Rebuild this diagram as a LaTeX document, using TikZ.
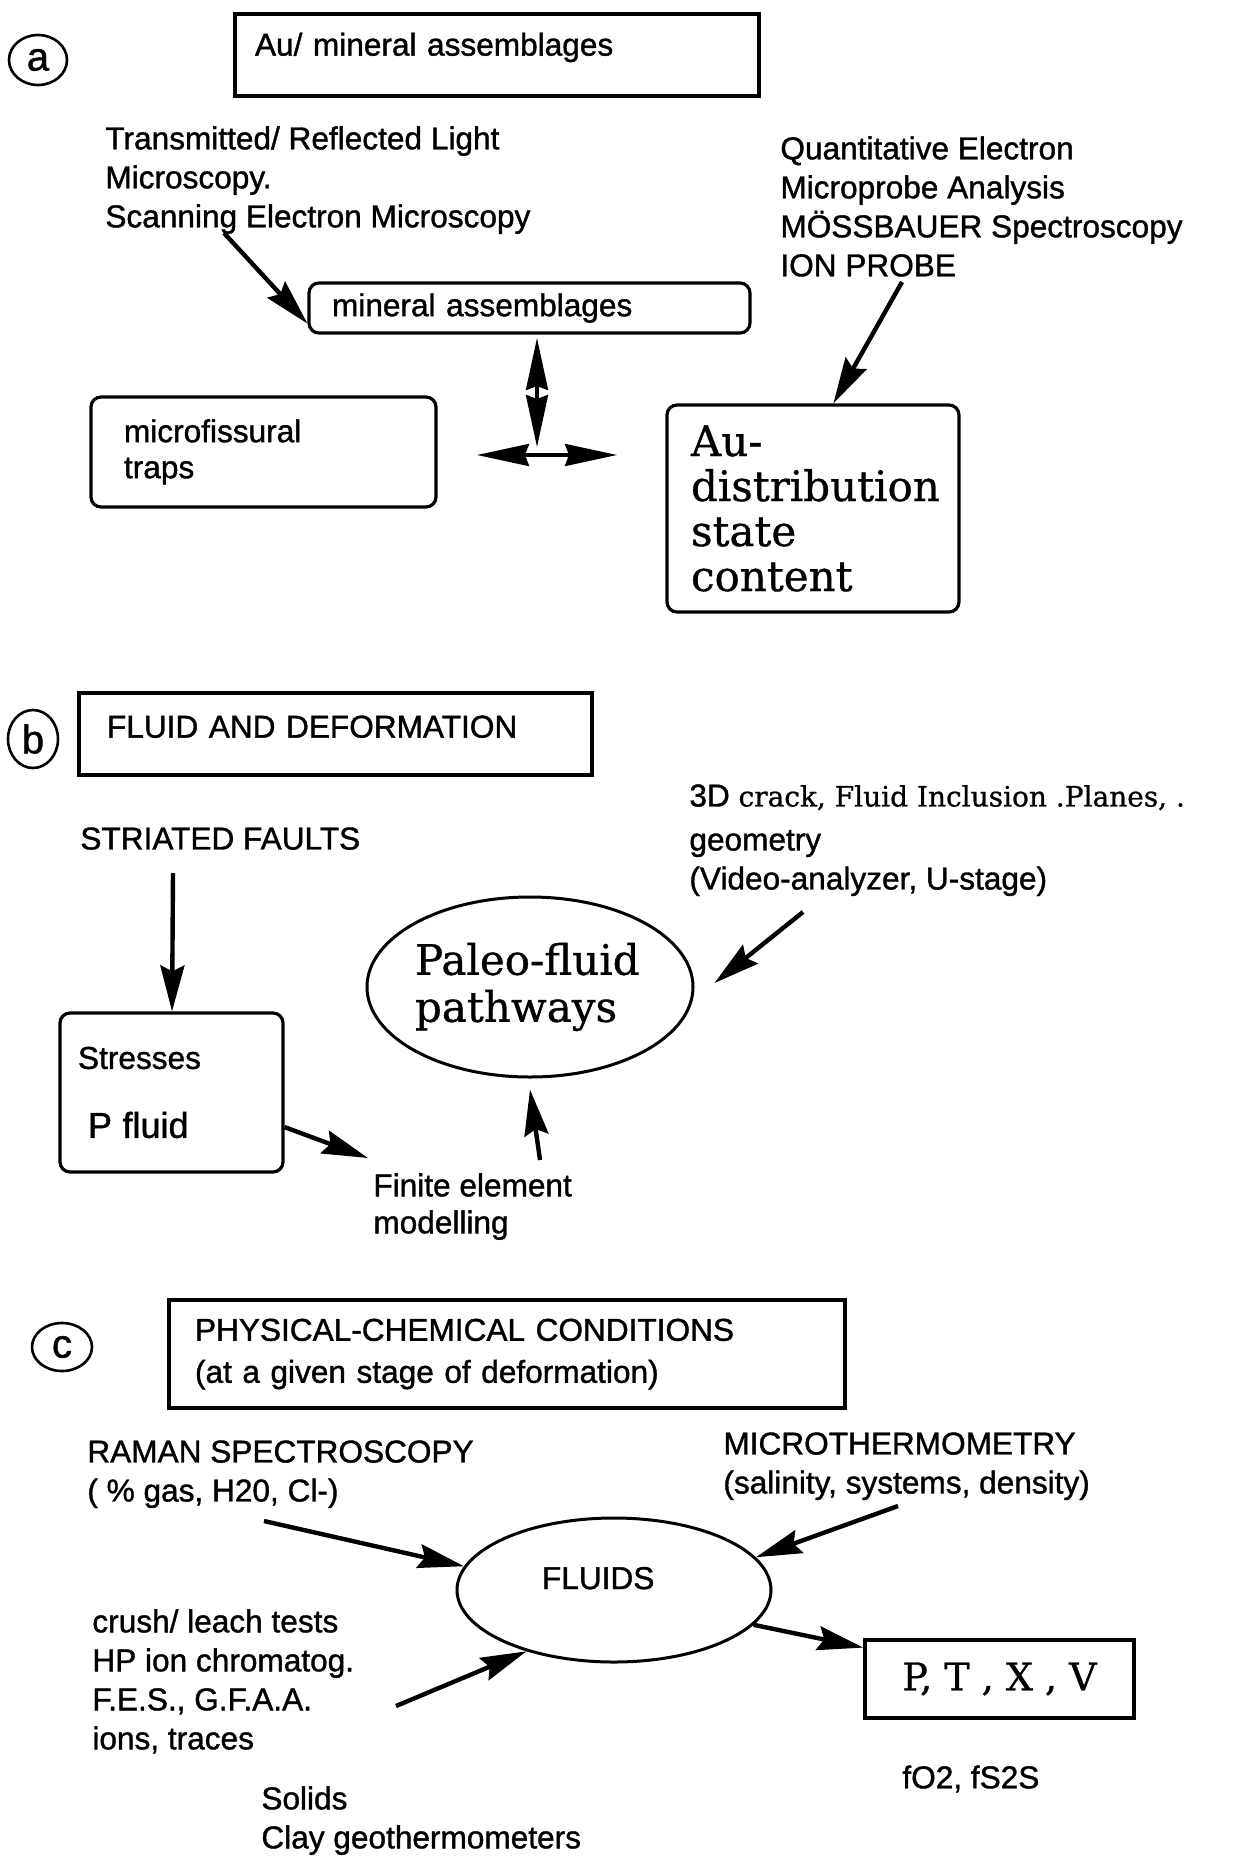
\documentclass[tikz,border=0pt]{standalone}
\usepackage{fontspec}
\setmainfont{DejaVu Serif}[UprightFeatures={FakeBold=0.8}]
\setsansfont{Liberation Sans}[UprightFeatures={FakeBold=1.2}]
\usetikzlibrary{arrows.meta,shapes}
\tikzset{
    %Define standard arrow tip
    >={Stealth[length=23pt,width=12pt,inset=3pt]},
    flow/.style={->, line width=2.2pt},
    twoway/.style={<->, line width=1.6pt,
      >={Stealth[length=26pt,width=11pt,inset=2pt]}},
    notetext/.style={
      font=\sffamily\fontsize{15.8}{19.5}\selectfont,
      align=left,
      inner sep=0pt,
      anchor=north west},
    sqbox/.style={
      rectangle,
      draw=black, line width=1.6pt,
      inner sep=0pt,
      font=\sffamily\fontsize{15.8}{19.5}\selectfont},
    rbox/.style={
      sqbox,
      rounded corners=5pt},
    oval/.style={
      ellipse,
      draw=black, line width=1.5pt,
      inner sep=0pt},
    tag/.style={
      ellipse,
      draw=black, line width=1.3pt,
      inner sep=0pt,
      font=\sffamily\fontsize{20}{20}\selectfont},
    serifbig/.style={
      font=\rmfamily\fontsize{21}{23.5}\selectfont},
}
\begin{document}
\begin{tikzpicture}[x=0.5pt,y=-0.5pt]
    \useasboundingbox (0,0) rectangle (1236,1856);

    % (a) gold and mineral assemblages
    \node (tag_a) [tag, minimum width=29pt, minimum height=25pt] at (38,60) {a};
    \node (aubox) [sqbox, inner xsep=10pt, text width=242pt, align=left,
          inner ysep=9.5pt, text height=11.3pt, text depth=10.7pt] at (497,55)
          {Au/ mineral assemblages};
    \node (transm) [notetext] at (105,126)
          {Transmitted/ Reflected Light\\ Microscopy.\\ Scanning Electron Microscopy};
    \node (quant) [notetext] at (780,136)
          {Quantitative Electron\\ Microprobe Analysis\\ MÖSSBAUER Spectroscopy\\ ION PROBE};
    \node (mineral) [rbox, inner xsep=11.5pt, text width=197.5pt, align=left,
          minimum height=25pt] at (529.5,308)
          {mineral assemblages};
    \node (microfis) [rbox, inner xsep=16.5pt, text width=139.5pt, align=left,
          minimum height=55pt, font=\sffamily\fontsize{15.8}{18}\selectfont] at (263.5,452)
          {microfissural\\ traps};
    \node (audist) [rbox, serifbig, inner xsep=12pt, text width=122pt, align=left,
          minimum height=103.5pt, font=\rmfamily\fontsize{21}{22.5}\selectfont] at (813,508.5)
          {Au-\\ distribution\\ state\\ content};

    \coordinate (tmtail) at (224,233);
    \coordinate (qtail) at (902,282);
    \coordinate (vtop) at (537,338);
    \coordinate (vbottom) at (537,447);
    \coordinate (hleft) at (477,455);
    \coordinate (hright) at (617,455);
    \draw [flow] (tmtail) -- (mineral.184);
    \draw [flow] (qtail) -- (audist.79);
    \draw [twoway] (vtop) -- (vbottom);
    \draw [twoway] (hleft) -- (hright);

    % (b) fluid and deformation
    \node (tag_b) [tag, minimum width=25pt, minimum height=29pt] at (33,739) {b};
    \node (fluidbox) [sqbox, inner xsep=14pt, text width=228.5pt, align=left,
          inner ysep=11pt, text height=11.3pt, text depth=7.7pt] at (335.5,734)
          {FLUID AND DEFORMATION};
    \node (faults) [notetext] at (80,827)
          {STRIATED FAULTS};
    \node (stresses) [rbox, inner xsep=9pt, text width=93.5pt, align=left,
          minimum height=79.5pt] at (171.5,1092.5)
          {Stresses\\[15pt]\hspace*{5pt}{\fontsize{18}{20}\selectfont P fluid}};
    \node (paleo) [oval, serifbig, align=left, text width=115pt,
          minimum width=163pt, minimum height=90pt] at (530,987)
          {Paleo-fluid\\ pathways};
    \node (crack) [notetext] at (689,784)
          {3D {\rmfamily\fontsize{14}{19.5}\selectfont crack, Fluid Inclusion .Planes, .}\\[2.5pt]
           geometry\\ (Video-analyzer, U-stage)};
    \node (finite) [notetext, font=\sffamily\fontsize{15.8}{18.5}\selectfont] at (373,1173)
          {Finite element\\ modelling};

    \coordinate (sftail) at (173,873);
    \coordinate (cracktail) at (803,912);
    \coordinate (fetail) at (540,1160);
    \draw [flow] (sftail) -- (stresses);
    \draw [flow] (cracktail) -- ([xshift=10pt,yshift=2pt]paleo.east);
    \draw [flow] (stresses.-17) -- ([shift={(-2.5pt,7.5pt)}]finite.north west);
    \draw [flow] (fetail) -- ([yshift=-5.5pt]paleo.south);

    % (c) physical-chemical conditions
    \node (tag_c) [tag, minimum width=30pt, minimum height=24pt] at (62,1347) {c};
    \node (physbox) [sqbox, inner xsep=13pt, text width=312pt, align=left,
          minimum height=54pt, font=\sffamily\fontsize{15.8}{21}\selectfont] at (507,1354)
          {PHYSICAL-CHEMICAL CONDITIONS\\ (at a given stage of deformation)};
    \node (raman) [notetext] at (87,1440)
          {RAMAN SPECTROSCOPY\\ ( \% gas, H20, Cl-)};
    \node (microth) [notetext] at (723,1432)
          {MICROTHERMOMETRY\\ (salinity, systems, density)};
    \node (fluids) [oval, font=\sffamily\fontsize{15.8}{19.5}\selectfont, text depth=12pt,
          align=left, text width=72pt,
          minimum width=157pt, minimum height=72pt] at (614,1590)
          {FLUIDS};
    \node (crush) [notetext] at (92,1609)
          {crush/ leach tests\\ HP ion chromatog.\\ F.E.S., G.F.A.A.\\ ions, traces};
    \node (ptxv) [sqbox, font=\rmfamily\fontsize{19}{21}\selectfont,
          minimum width=134.5pt, minimum height=39pt] at (999.5,1679)
          {P, T , X , V};
    \node (fugac) [notetext] at (902,1765)
          {fO2, fS2S};
    \node (solids) [notetext, font=\sffamily\fontsize{15.8}{19.5}\selectfont] at (261,1786)
          {Solids\\ Clay geothermometers};

    \coordinate (rmtail) at (264,1521);
    \coordinate (mctail) at (898,1506);
    \coordinate (crtail) at (396,1706);
    \draw [flow] (rmtail) -- (fluids.171);
    \draw [flow] (mctail) -- (fluids.13);
    \draw [flow] (crtail) -- (fluids.215);
    \draw [flow] (fluids.-14) -- (ptxv.167);
\end{tikzpicture}
\end{document}
